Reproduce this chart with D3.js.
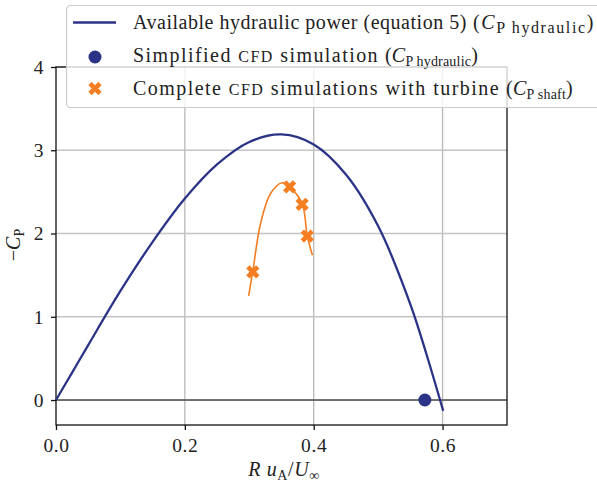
<!DOCTYPE html>
<html>
<head>
<meta charset="utf-8">
<script src="https://cdn.jsdelivr.net/npm/d3@7"></script>
<style>
  body { margin: 0; background: #fff; }
  svg text { font-family: "Liberation Serif", "DejaVu Serif", serif; fill: #222; }
</style>
</head>
<body>
<div id="chart"></div>
<script>
// data
const hydraulicX = [0, 0.025, 0.05, 0.1, 0.15, 0.2, 0.25, 0.3, 0.35, 0.4, 0.45, 0.5, 0.55, 0.575, 0.601];
const hydraulicY = [0, 0.33, 0.66, 1.31, 1.90, 2.42, 2.83, 3.10, 3.19, 3.07, 2.71, 2.09, 1.15, 0.55, -0.13];

const fitX = [0.299, 0.3055, 0.3175, 0.333, 0.351, 0.3626, 0.382, 0.390, 0.398];
const fitY = [1.25, 1.55, 2.12, 2.48, 2.61, 2.56, 2.36, 1.97, 1.74];

const shaftX = [0.3055, 0.3626, 0.382, 0.390];
const shaftY = [1.54, 2.56, 2.35, 1.97];

const simpleX = [0.5725];
const simpleY = [0.0];

const xTicks = [0, 0.2, 0.4, 0.6];
const yTicks = [0, 1, 2, 3, 4];

const blue = "#2b3387";
const orange = "#f57e22";

const W = 597, H = 485;
const svg = d3.select("#chart").append("svg")
  .attr("width", W).attr("height", H);

// plot box
const mLeft = 56, mRight = 507, mTop = 67, mBottom = 425;
const x = d3.scaleLinear().domain([0, 0.7]).range([mLeft, mRight]);
const y = d3.scaleLinear().domain([-0.3, 4]).range([mBottom, mTop]);

// grid
svg.append("g").selectAll("line").data(xTicks.slice(1)).join("line")
  .attr("x1", d => x(d)).attr("x2", d => x(d))
  .attr("y1", mTop).attr("y2", mBottom)
  .attr("stroke", "#b8b8b8").attr("stroke-width", 1.3);
svg.append("g").selectAll("line").data(yTicks).join("line")
  .attr("x1", mLeft).attr("x2", mRight)
  .attr("y1", d => y(d)).attr("y2", d => y(d))
  .attr("stroke", "#c4c4c4").attr("stroke-width", 1.3);

// zero line
svg.append("line")
  .attr("x1", mLeft).attr("x2", mRight)
  .attr("y1", y(0)).attr("y2", y(0))
  .attr("stroke", "#111").attr("stroke-width", 1);

// axes
const xAxis = svg.append("g")
  .attr("transform", `translate(0,${mBottom})`)
  .call(d3.axisBottom(x).tickValues(xTicks).tickFormat(d3.format(".1f")).tickSize(5).tickPadding(8));
const yAxis = svg.append("g")
  .attr("transform", `translate(${mLeft},0)`)
  .call(d3.axisLeft(y).tickValues(yTicks).tickFormat(d3.format("d")).tickSize(5).tickPadding(7));
[xAxis, yAxis].forEach(g => {
  g.select(".domain").remove();
  g.selectAll(".tick line").attr("stroke", "#111").attr("stroke-width", 1.3);
  g.selectAll(".tick text")
    .style("font-family", "'Liberation Serif', serif")
    .style("font-size", "19.5px").style("letter-spacing", "0.6px").attr("fill", "#333");
});

// spines
svg.append("rect")
  .attr("x", mLeft).attr("y", mTop)
  .attr("width", mRight - mLeft).attr("height", mBottom - mTop)
  .attr("fill", "none").attr("stroke", "#111").attr("stroke-width", 1.3);

// hydraulic curve
const hydraulic = hydraulicX.map((v, i) => [v, hydraulicY[i]]);
svg.append("path")
  .datum(hydraulic)
  .attr("d", d3.line().x(d => x(d[0])).y(d => y(d[1])).curve(d3.curveCatmullRom))
  .attr("fill", "none").attr("stroke", blue).attr("stroke-width", 2.3);

// orange fit
const fit = fitX.map((v, i) => [v, fitY[i]]);
svg.append("path")
  .datum(fit)
  .attr("d", d3.line().x(d => x(d[0])).y(d => y(d[1])).curve(d3.curveCatmullRom))
  .attr("fill", "none").attr("stroke", orange).attr("stroke-width", 1.6);

const xMark = d3.symbol().type(d3.symbolCross).size(110);

svg.append("g").selectAll("path").data(shaftX.map((v, i) => [v, shaftY[i]])).join("path")
  .attr("d", xMark)
  .attr("transform", d => `translate(${x(d[0])},${y(d[1])}) rotate(45)`)
  .attr("fill", orange);

svg.append("g").selectAll("circle").data(simpleX.map((v, i) => [v, simpleY[i]])).join("circle")
  .attr("cx", d => x(d[0])).attr("cy", d => y(d[1])).attr("r", 6.5)
  .attr("fill", blue);

// axis labels
const xl = svg.append("text")
  .attr("x", 284).attr("y", 476).attr("text-anchor", "middle")
  .style("font-size", "20px").style("letter-spacing", "0.6px").attr("fill", "#333");
xl.append("tspan").attr("font-style", "italic").text("R");
xl.append("tspan").text(" ");
xl.append("tspan").attr("font-style", "italic").text("u");
xl.append("tspan").attr("font-size", "14px").attr("dy", 4).text("A");
xl.append("tspan").attr("dy", -4).text("/");
xl.append("tspan").attr("font-style", "italic").text("U");
xl.append("tspan").attr("font-size", "14px").attr("dy", 4).text("∞");

const yl = svg.append("text")
  .attr("transform", "translate(20,245) rotate(-90)")
  .attr("text-anchor", "middle")
  .style("font-size", "20px").attr("fill", "#333");
yl.append("tspan").text("−");
yl.append("tspan").attr("font-style", "italic").text("C");
yl.append("tspan").attr("font-size", "14px").attr("dy", 4).text("P");

// legend
const leg = svg.append("g");
leg.append("rect")
  .attr("x", 66.5).attr("y", 5.5).attr("width", 560).attr("height", 102)
  .attr("rx", 4)
  .attr("fill", "#fff").attr("fill-opacity", 0.8)
  .attr("stroke", "#cccccc").attr("stroke-width", 1.2);

leg.append("line")
  .attr("x1", 73).attr("x2", 116).attr("y1", 22.5).attr("y2", 22.5)
  .attr("stroke", blue).attr("stroke-width", 2.3);
leg.append("circle").attr("cx", 95).attr("cy", 57).attr("r", 6.5).attr("fill", blue);
leg.append("path").attr("d", xMark)
  .attr("transform", "translate(95,88.5) rotate(45)").attr("fill", orange);

// a run of pieces starting at x0, spread evenly so it ends near x1
// piece: [text, fontSize?, italic?, dy?]
function run(t, pieces, x0, x1) {
  const spans = pieces.map((p, i) => {
    const s = t.append("tspan").text(p[0]);
    if (i === 0) s.attr("x", x0);
    if (p[1]) s.attr("font-size", p[1]);
    if (p[2]) s.attr("font-style", "italic");
    if (p[3]) s.attr("dy", p[3]);
    return s;
  });
  let len = 0, n = 0;
  spans.forEach((s, i) => { len += s.node().getComputedTextLength(); n += pieces[i][0].length; });
  const ls = (x1 - x0 - len) / n;
  spans.forEach(s => s.style("letter-spacing", ls + "px"));
}

function cp(sub, subSize) {
  return [["("], ["C", null, true], [sub, subSize, false, 4], [")", null, false, -4]];
}

function legText(yy) {
  return leg.append("text").attr("y", yy)
    .style("font-size", "20px").attr("fill", "#2a2a2a");
}

const t1 = legText(29);
run(t1, [["Available hydraulic power (equation 5)"]], 133, 467);
run(t1, cp("P hydraulic", "16px"), 473, 595);

const t2 = legText(62);
run(t2, [["Simplified "], ["CFD", "16px"], [" simulation"]], 133, 379);
run(t2, cp("P hydraulic", "14px"), 385, 478);

const t3 = legText(95);
run(t3, [["Complete "], ["CFD", "16px"], [" simulations with turbine"]], 133, 500);
run(t3, cp("P shaft", "14px"), 506, 573);
</script>
</body>
</html>
